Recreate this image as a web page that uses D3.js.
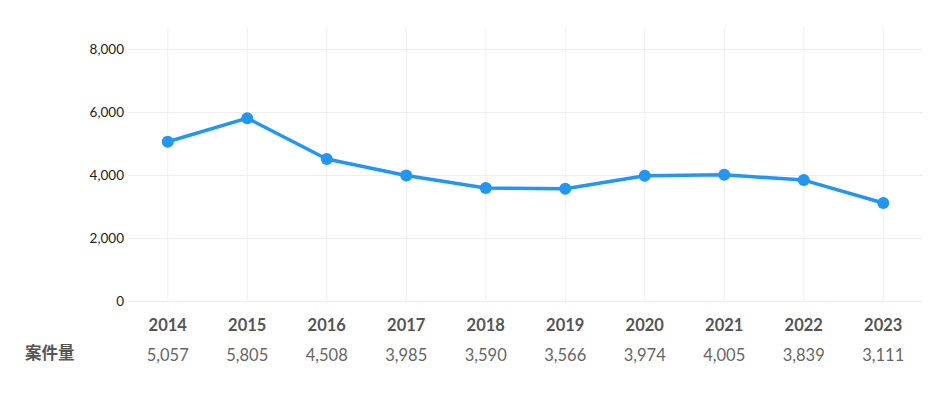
<!DOCTYPE html>
<html>
<head>
<meta charset="utf-8">
<script src="https://cdn.jsdelivr.net/npm/d3@7"></script>
<style>
  body { margin: 0; background: #fff; }
  svg { font-family: Lato, "Noto Sans CJK JP", sans-serif; }
</style>
</head>
<body>
<svg id="chart" width="944" height="397"></svg>
<script>
var years = ["2014", "2015", "2016", "2017", "2018", "2019", "2020", "2021", "2022", "2023"];
var cases = [5057, 5805, 4508, 3985, 3590, 3566, 3974, 4005, 3839, 3111];
var yTicks = [0, 2000, 4000, 6000, 8000];
var rowLabel = "案件量";

var data = years.map(function(y, i) { return {year: y, value: cases[i]}; });

var svg = d3.select("#chart"),
    margin = {top: 49, right: 21, bottom: 96, left: 128},
    width = +svg.attr("width") - margin.left - margin.right,
    height = +svg.attr("height") - margin.top - margin.bottom,
    g = svg.append("g").attr("transform", "translate(" + margin.left + "," + margin.top + ")");

var x = d3.scaleBand()
    .domain(years)
    .range([0, width]);

var y = d3.scaleLinear()
    .domain([0, 8000])
    .range([height, 0]);

var fmt = d3.format(",");

// vertical grid
g.append("g")
  .selectAll("line")
  .data(years)
  .enter().append("line")
    .attr("x1", function(d) { return x(d) + x.bandwidth() / 2; })
    .attr("x2", function(d) { return x(d) + x.bandwidth() / 2; })
    .attr("y1", -22)
    .attr("y2", height)
    .attr("stroke", "#f0f0f0")
    .attr("stroke-width", 1);

// horizontal grid + y labels
var yAxis = g.append("g")
    .call(d3.axisLeft(y).tickValues(yTicks).tickFormat(fmt).tickSize(-width).tickPadding(4));
yAxis.select(".domain").remove();
yAxis.selectAll(".tick line").attr("stroke", "#eeeeee");
yAxis.selectAll(".tick text")
    .attr("fill", "#222")
    .style("font-size", "13.5px")
    .style("font-family", "Lato, sans-serif");

// year labels
var xAxis = g.append("g")
    .attr("transform", "translate(0," + height + ")")
    .call(d3.axisBottom(x).tickSize(0).tickPadding(0));
xAxis.select(".domain").remove();
xAxis.selectAll(".tick text")
    .attr("y", 30)
    .attr("dy", null)
    .attr("fill", "#555")
    .style("font-size", "16.5px")
    .style("font-weight", "bold")
    .style("font-family", "Lato, sans-serif");

// value row
g.append("g")
  .selectAll("text")
  .data(data)
  .enter().append("text")
    .attr("x", function(d) { return x(d.year) + x.bandwidth() / 2; })
    .attr("y", height + 60)
    .attr("text-anchor", "middle")
    .attr("fill", "#666")
    .style("font-size", "16.5px")
    .text(function(d) { return fmt(d.value); });

svg.append("text")
    .attr("x", 25)
    .attr("y", margin.top + height + 58)
    .attr("fill", "#555")
    .style("font-size", "16.5px")
    .style("font-weight", "bold")
    .style("font-family", "'Noto Sans CJK JP', sans-serif")
    .text(rowLabel);

var line = d3.line()
    .x(function(d) { return x(d.year) + x.bandwidth() / 2; })
    .y(function(d) { return y(d.value); });

g.append("path")
    .datum(data)
    .attr("fill", "none")
    .attr("stroke", "#2196f3")
    .attr("stroke-width", 3.5)
    .attr("stroke-linejoin", "round")
    .attr("d", line);

g.append("g")
  .selectAll("circle")
  .data(data)
  .enter().append("circle")
    .attr("cx", function(d) { return x(d.year) + x.bandwidth() / 2; })
    .attr("cy", function(d) { return y(d.value); })
    .attr("r", 6)
    .attr("fill", "#2196f3");
</script>
</body>
</html>
